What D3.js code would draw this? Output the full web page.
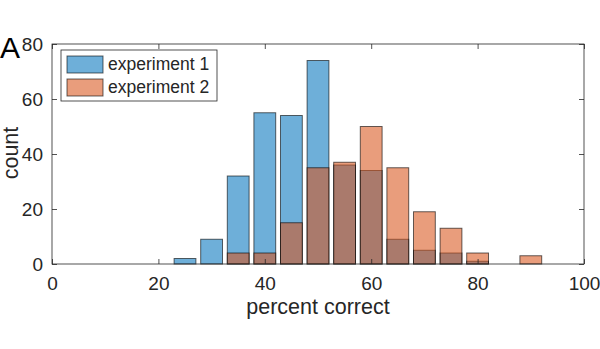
<!DOCTYPE html>
<html><head><meta charset="utf-8">
<script src="https://cdn.jsdelivr.net/npm/d3@7"></script>
<style>body{margin:0;background:#fff}svg{display:block;font-family:"Liberation Sans",Arial,Helvetica,sans-serif}</style>
</head><body><svg id="c" width="600" height="349"></svg>
<script>
const binCenters = [25,30,35,40,45,50,55,60,65,70,75,80,90];
const exp1 = [2,9,32,55,54,74,36,34,9,5,4,1,0];
const exp2 = [0,0,4,4,15,35,37,50,35,19,13,4,3];
const seriesNames = ["experiment 1","experiment 2"];
const xTicks = [0,20,40,60,80,100];
const yTicks = [0,20,40,60,80];
const colors = ["#0072BD","#D95319"];

const svg = d3.select("#c");
const m = {l:52, r:584, t:44, b:264};
const x = d3.scaleLinear().domain([0,100]).range([m.l,m.r]);
const y = d3.scaleLinear().domain([0,80]).range([m.b,m.t]);
const binW = 4.1;
const axisCol = "#262626";

[exp1,exp2].forEach((vals,si)=>{
  svg.append("g").selectAll("rect").data(binCenters.map((c,i)=>({c,v:vals[i]})).filter(d=>d.v>0))
    .join("rect")
    .attr("x",d=>x(d.c-binW/2)).attr("width",d=>x(d.c+binW/2)-x(d.c-binW/2))
    .attr("y",d=>y(d.v)).attr("height",d=>y(0)-y(d.v))
    .attr("fill",colors[si]).attr("fill-opacity",0.57)
    .attr("stroke","#000").attr("stroke-opacity",0.6).attr("stroke-width",1);
});

// box
svg.append("rect").attr("x",m.l).attr("y",m.t).attr("width",m.r-m.l).attr("height",m.b-m.t)
  .attr("fill","none").attr("stroke",axisCol).attr("stroke-width",0.8);

const fs = 19;
const xa = d3.axisBottom(x).tickValues(xTicks).tickSizeInner(-5).tickSizeOuter(0).tickPadding(13);
svg.append("g").attr("transform",`translate(0,${m.b})`).call(xa);
const xt = d3.axisTop(x).tickValues(xTicks).tickSizeInner(-5).tickSizeOuter(0).tickFormat("");
svg.append("g").attr("transform",`translate(0,${m.t})`).call(xt);
const ya = d3.axisLeft(y).tickValues(yTicks).tickSizeInner(-5).tickSizeOuter(0).tickPadding(9);
svg.append("g").attr("transform",`translate(${m.l},0)`).call(ya);
const yr = d3.axisRight(y).tickValues(yTicks).tickSizeInner(-5).tickSizeOuter(0).tickFormat("");
svg.append("g").attr("transform",`translate(${m.r},0)`).call(yr);
svg.selectAll(".domain").remove();
svg.selectAll(".tick line").attr("stroke",axisCol).attr("stroke-width",0.8);
svg.selectAll(".tick text").attr("fill",axisCol).style("font-size",fs+"px").style("font-family","'Liberation Sans',Arial,sans-serif");

svg.append("text").attr("x",(m.l+m.r)/2).attr("y",314).attr("text-anchor","middle")
  .attr("fill",axisCol).style("font-size","21.5px").text("percent correct");
svg.append("text").attr("transform",`translate(18,${153}) rotate(-90)`).attr("text-anchor","middle")
  .attr("fill",axisCol).style("font-size","21.5px").text("count");
svg.append("text").attr("x",0).attr("y",58).attr("fill","#000").style("font-size","30px").text("A");

// legend
const lg = svg.append("g");
lg.append("rect").attr("x",61).attr("y",50).attr("width",156).attr("height",51)
  .attr("fill","#fff").attr("stroke","#262626").attr("stroke-width",0.8);
seriesNames.forEach((n,i)=>{
  const yy = 56 + i*23;
  lg.append("rect").attr("x",67).attr("y",yy).attr("width",36).attr("height",17)
    .attr("fill",colors[i]).attr("fill-opacity",0.57).attr("stroke","#000").attr("stroke-opacity",0.6);
  lg.append("text").attr("x",108).attr("y",yy+14).attr("fill",axisCol).style("font-size","17.5px").text(n);
});
</script></body></html>
